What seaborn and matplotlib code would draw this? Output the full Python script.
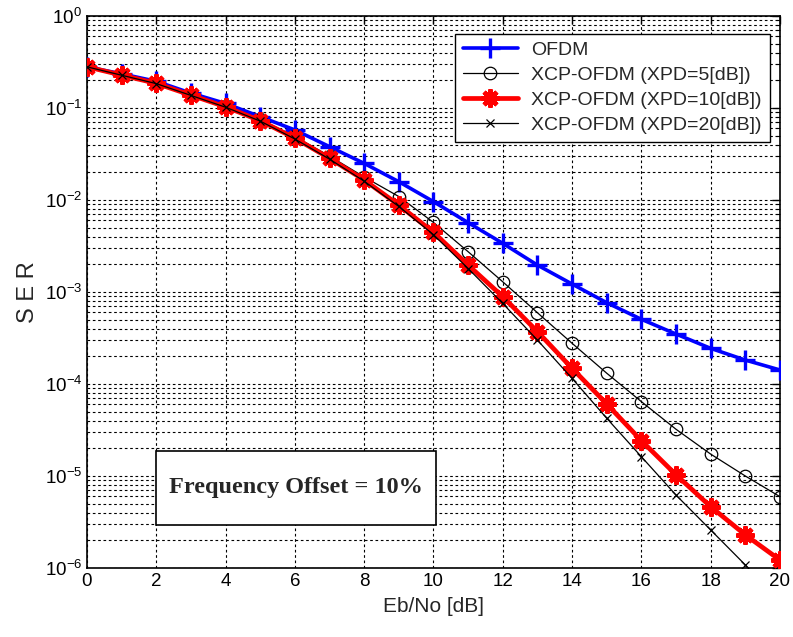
import numpy as np
import pandas as pd
import matplotlib
matplotlib.use("Agg")
import matplotlib.pyplot as plt
from matplotlib.patches import Rectangle
from matplotlib.ticker import LogLocator, FixedLocator, NullFormatter, NullLocator
import seaborn as sns

# Eb/No sweep in dB
ebno = [0, 1, 2, 3, 4, 5, 6, 7, 8, 9, 10, 11, 12, 13, 14, 15, 16, 17, 18, 19, 20]

# Symbol error rate per scheme
ser_ofdm = [0.28, 0.235, 0.195, 0.145, 0.112, 0.0805, 0.0577, 0.038, 0.025, 0.0158,
            0.0096, 0.00567, 0.00338, 0.00196, 0.00122, 0.000765, 0.000505, 0.000349,
            0.000244, 0.000182, 0.000142]
ser_xpd5 = [0.28, 0.23, 0.187, 0.14, 0.105, 0.075, 0.049, 0.030, 0.0178, 0.0109,
            0.0057, 0.00274, 0.00129, 0.000595, 0.000277, 0.000131, 6.43e-5, 3.22e-5,
            1.73e-5, 1.0e-5, 5.96e-6]
ser_xpd10 = [0.28, 0.228, 0.185, 0.138, 0.103, 0.0728, 0.047, 0.0284, 0.0165, 0.0088,
             0.00445, 0.00196, 0.00089, 0.000371, 0.000148, 6.07e-5, 2.42e-5, 1.03e-5,
             4.64e-6, 2.29e-6, 1.22e-6]
ser_xpd20 = [0.28, 0.227, 0.184, 0.137, 0.102, 0.072, 0.046, 0.0278, 0.016, 0.0085,
             0.0042, 0.0018, 0.00075, 0.0003, 0.000115, 4.24e-5, 1.62e-5, 6.2e-6,
             2.59e-6, 1.08e-6, 4.5e-7]

labels = ["OFDM", "XCP-OFDM (XPD=5[dB])", "XCP-OFDM (XPD=10[dB])", "XCP-OFDM (XPD=20[dB])"]
series = [ser_ofdm, ser_xpd5, ser_xpd10, ser_xpd20]

df = pd.concat(
    [pd.DataFrame({"ebno": ebno, "ser": s, "scheme": lab}) for lab, s in zip(labels, series)],
    ignore_index=True,
)

sns.set_style("white")
plt.rcParams["font.family"] = ["Liberation Sans", "DejaVu Sans"]

fig = plt.figure(figsize=(7.93, 6.37), dpi=100)
ax = fig.add_axes([0.1097, 0.1083, 0.8739, 0.8666])

styles = {
    labels[0]: dict(color="#0000ff", lw=2.6, marker="+", ms=14, mew=2.4, mfc="none", zorder=3),
    labels[1]: dict(color="black", lw=0.9, marker="o", ms=9, mew=0.9, mfc="none", zorder=4),
    labels[2]: dict(color="#ff0000", lw=3.4, marker=(8, 2, 0), ms=13, mew=3.2, mfc="#ff0000", zorder=5),
    labels[3]: dict(color="black", lw=0.9, marker="x", ms=6, mew=0.9, mfc="none", zorder=6),
}

for lab in labels:
    st = dict(styles[lab])
    z = st.pop("zorder")
    sns.lineplot(data=df[df["scheme"] == lab], x="ebno", y="ser", ax=ax, label=lab,
                 markeredgecolor=st["color"], zorder=z, **st)

ax.set_yscale("log")
ax.set_xlim(0, 20)
ax.set_ylim(1e-6, 1)

ax.xaxis.set_major_locator(FixedLocator(list(range(0, 21, 2))))
ax.xaxis.set_minor_locator(NullLocator())
ax.yaxis.set_major_locator(LogLocator(base=10, numticks=10))
ax.yaxis.set_minor_locator(LogLocator(base=10, subs=np.arange(2, 10), numticks=20))
ax.yaxis.set_minor_formatter(NullFormatter())

grid_kw = dict(color="black", linestyle=(0, (2.4, 2.4)), linewidth=0.8)
ax.grid(True, which="major", axis="both", **grid_kw)
ax.grid(True, which="minor", axis="y", **grid_kw)

ax.tick_params(which="both", direction="in", top=True, right=True, labelsize=13.5, colors="black")
ax.tick_params(which="major", length=6, width=1)
ax.tick_params(which="minor", length=3, width=0.8)
for sp in ax.spines.values():
    sp.set_color("black")
    sp.set_linewidth(1.2)

ax.set_xlabel("Eb/No [dB]", fontsize=15, labelpad=5)
ax.set_ylabel("S E R", fontsize=17, labelpad=4)

leg = ax.legend(loc="upper right", fontsize=14, frameon=True, fancybox=False,
                edgecolor="black", framealpha=1, borderpad=0.4, labelspacing=0.38,
                handlelength=2.8, handletextpad=0.7, borderaxespad=0,
                bbox_to_anchor=(0.985, 0.968))
leg.get_frame().set_linewidth(1.0)

# annotation box in the lower left
ax.add_patch(Rectangle((0.0996, 0.078), 0.404, 0.134, transform=ax.transAxes,
                       facecolor="white", edgecolor="black", lw=1.2, zorder=7))
ax.text(0.3016, 0.146, "Frequency Offset = 10%", transform=ax.transAxes,
        ha="center", va="center", fontsize=17.5, fontweight="bold",
        family=["Liberation Serif", "DejaVu Serif"], zorder=8)

fig.savefig("out.png", dpi=100, facecolor="white")
